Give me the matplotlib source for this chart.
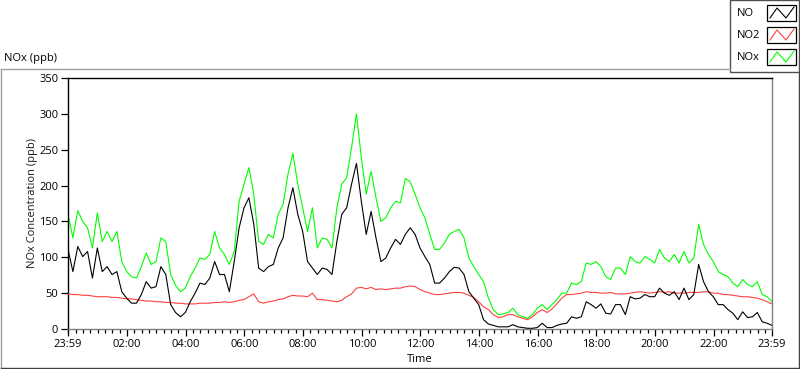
import matplotlib
matplotlib.use('Agg')
import matplotlib.pyplot as plt
import numpy as np
from matplotlib.lines import Line2D
from matplotlib.patches import Rectangle
from matplotlib.ticker import MultipleLocator

plt.rcParams['font.family'] = ['Open Sans', 'DejaVu Sans']

# ---------------- data (10-minute samples starting 23:59) ----------------
start_hour = -1.0 / 60.0          # 23:59 of the previous day
interval_hours = 10.0 / 60.0

nox = [160, 127, 165, 150, 141, 113, 162, 122, 136, 122, 136, 94, 80, 73, 71, 87, 106, 90, 94, 127,
       122, 76, 61, 52, 57, 73,
       85, 99, 97, 104, 136, 113, 104, 90, 108, 178, 202, 225, 188, 122, 118, 132, 127, 160, 174, 216,
       245, 202, 169, 136, 169,
       113, 127, 125, 113, 169, 202, 211, 253, 300, 239, 188, 220, 183, 150, 155, 169, 178, 176, 210, 205,
       188, 169, 155, 132, 111, 111,
       120, 132, 136, 139, 127, 99, 87, 76, 66, 43, 27, 20, 21, 23, 29, 20, 17, 15, 20, 29, 34, 27, 34, 41, 50,
       50, 64, 62, 66, 92, 90, 94, 87, 73, 69, 85, 85, 76, 101, 94, 92, 101, 97, 92, 111, 99, 94,
       104, 92, 108, 92, 99, 146, 118, 104, 94, 80, 76, 73, 64, 59, 69, 62, 59, 66, 48, 45, 38]

no = [111, 80, 115, 101, 108, 71, 113, 80, 87, 76, 80, 52, 43, 36, 36, 48, 66, 57, 59, 87,
      76, 34, 23, 17, 23, 38,
      50, 64, 62, 71, 94, 76, 76, 52, 94, 141, 169, 183, 146, 85, 80, 87, 90, 113, 127, 169,
      197, 160, 136, 94, 85,
      76, 85, 83, 76, 122, 160, 169, 202, 231, 178, 132, 164, 127, 94, 99, 113, 125, 118, 132, 141,
      132, 113, 101, 90, 64, 64,
      71, 80, 86, 85, 76, 52, 43, 34, 13, 7, 5, 3, 3, 3, 6, 3, 2, 1, 1, 2, 8, 2, 2, 5, 7,
      8, 17, 15, 17, 38, 34, 29, 35, 22, 21, 34, 34, 20, 45, 42, 43, 48, 45, 45, 57, 50, 47,
      52, 41, 57, 41, 48, 90, 66, 52, 45, 34, 34, 27, 22, 13, 24, 16, 17, 23, 10, 8, 5]

no2 = [49, 48, 48, 47, 47, 46, 45, 45, 45, 44, 44, 43, 42, 42, 41, 40, 39, 39, 38, 38,
       37, 37, 36, 36, 35, 35,
       35, 36, 36, 36, 37, 37, 38, 37, 38, 40, 41, 45, 49, 38, 36, 38, 39, 41, 42, 45,
       47, 46, 46, 45, 50,
       41, 41, 40, 39, 38, 40, 45, 49, 57, 58, 56, 58, 55, 56, 55, 56, 57, 57, 59, 60,
       59, 55, 52, 50, 48, 48,
       49, 50, 51, 51, 50, 47, 44, 38, 31, 27, 20, 16, 17, 20, 20, 17, 15, 13, 17, 23, 27, 23, 28, 35, 43,
       48, 48, 49, 50, 52, 51, 51, 50, 50, 51, 49, 49, 49, 50, 51, 52, 51, 50, 51, 52, 51, 52,
       50, 50, 50, 51, 51, 51, 52, 52, 50, 50, 48, 48, 47, 46, 45, 45, 44, 43, 41, 38, 35]

x_tick_hours = [start_hour, 2, 4, 6, 8, 10, 12, 14, 16, 18, 20, 22, start_hour + 24]
x_tick_labels = ['23:59', '02:00', '04:00', '06:00', '08:00', '10:00', '12:00',
                 '14:00', '16:00', '18:00', '20:00', '22:00', '23:59']
y_ticks = [0, 50, 100, 150, 200, 250, 300, 350]
series_names = ['NO', 'NO2', 'NOx']
series_colors = ['#000000', '#ff4040', '#00ff00']

# ---------------- figure ----------------
W, H = 800, 369
fig = plt.figure(figsize=(W / 100, H / 100), dpi=100)
fig.patch.set_facecolor('white')


def fx(px):
    return px / W


def fy(py):
    return 1 - py / H


ax = fig.add_axes([fx(68), fy(329), fx(772) - fx(68), fy(78) - fy(329)])

t = start_hour + np.arange(len(no)) * interval_hours
ax.plot(t, nox, color=series_colors[2], lw=0.8, zorder=2)
ax.plot(t, no2, color=series_colors[1], lw=0.8, zorder=3)
ax.plot(t, no, color=series_colors[0], lw=0.8, zorder=4)

ax.set_xlim(start_hour, start_hour + 24)
ax.set_ylim(0, 350)
ax.set_xticks(x_tick_hours)
ax.set_xticklabels(x_tick_labels)
ax.xaxis.set_minor_locator(MultipleLocator(0.25))
ax.set_yticks(y_ticks)
ax.tick_params(axis='both', which='major', length=5, width=0.9, labelsize=8, color='black')
ax.tick_params(axis='x', which='minor', length=3, width=0.9, color='black')
ax.tick_params(axis='x', pad=2)
ax.tick_params(axis='y', pad=2)

for side in ['top', 'left']:
    ax.spines[side].set_color('black')
    ax.spines[side].set_linewidth(1.0)
for side in ['bottom', 'right']:
    ax.spines[side].set_color('#808080')
    ax.spines[side].set_linewidth(1.0)

fig.text(fx(32), fy(203), 'NOx Concentration (ppb)', rotation=90, ha='center', va='center',
         fontsize=8, color='#1a1a1a')
fig.text(fx(420), fy(360), 'Time', ha='center', va='center', fontsize=8)
fig.text(fx(4), fy(58), 'NOx (ppb)', ha='left', va='center', fontsize=8)

# panel frame
def fline(xs, ys, color, lw=1.0):
    fig.add_artist(Line2D([fx(v) for v in xs], [fy(v) for v in ys], color=color, lw=lw,
                          transform=fig.transFigure))

fline([0.5, 730], [69, 69], '#a0a0a0')
fline([0.5, 0.5], [69, 368], '#a0a0a0')
fline([0.5, 799], [368, 368], '#404040')
fline([799, 799], [72, 368], '#404040')

# legend
fig.add_artist(Rectangle((fx(730), fy(72)), fx(799) - fx(730), fy(0) - fy(72),
                         facecolor='white', edgecolor='#505050', lw=1.0,
                         transform=fig.transFigure))
row_y = [13, 35, 57]
for name, color, yc in zip(series_names, series_colors, row_y):
    fig.text(fx(737), fy(yc), name, ha='left', va='center', fontsize=8)
    bx0, bx1 = 767, 796
    by0, by1 = yc - 8, yc + 8
    fig.add_artist(Rectangle((fx(bx0), fy(by1)), fx(bx1) - fx(bx0), fy(by0) - fy(by1),
                             facecolor='white', edgecolor='black', lw=0.9,
                             transform=fig.transFigure))
    zx = [bx0 + 3, bx0 + 10, bx0 + 19, bx0 + 27]
    zy = [by1 - 3, by0 + 3, by1 - 3, by0 + 2]
    fline(zx, zy, color, lw=0.8)

fig.savefig('out.png', dpi=100, facecolor='white')
